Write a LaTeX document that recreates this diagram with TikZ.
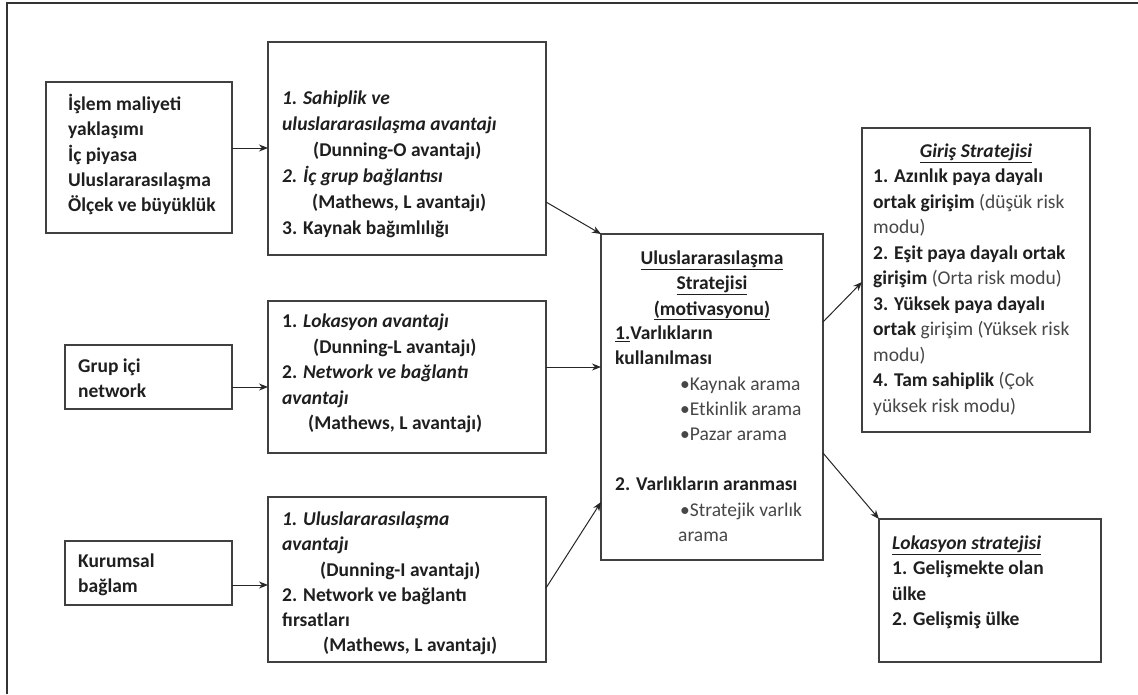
\documentclass[tikz,border=0pt]{standalone}
\usepackage{fontspec}
\setmainfont{Carlito}
\usetikzlibrary{arrows.meta}
\newcommand\lgt[1]{{\mdseries\color{black!72}#1}}
\begin{document}
\begin{tikzpicture}[x=1pt,y=-1pt,
  box/.style={draw=black!75, line width=1.2pt, anchor=north west, inner sep=0pt, outer sep=0pt},
  txt/.style={anchor=north west, inner sep=0pt, align=left, font=\fontsize{19.5}{25.3}\selectfont\bfseries, text=black!88},
  arr/.style={draw=black!85, line width=1pt, -{Stealth[length=9pt,width=7pt]}}
]
\useasboundingbox (0,0) rectangle (1138,694);
\fill[white] (0,0) rectangle (1138,694);
\draw[black!80, line width=2pt] (7,694) -- (7,3) -- (1138,3);

% boxes
\node[box, minimum width=186, minimum height=151] (A) at (46,82) {};
\node[box, minimum width=278, minimum height=213] (B) at (268,42) {};
\node[box, minimum width=278, minimum height=152] (C) at (268,301) {};
\node[box, minimum width=278, minimum height=165] (D) at (268,497) {};
\node[box, minimum width=167, minimum height=64] (E) at (65,345) {};
\node[box, minimum width=167, minimum height=64] (F) at (65,541) {};
\node[box, minimum width=222, minimum height=326] (G) at (601,234) {};
\node[box, minimum width=228, minimum height=304] (H) at (862,128) {};
\node[box, minimum width=222, minimum height=143] (I) at (879,519) {};

% texts
\node[txt] (tA) at (68,92.5) {\strut İşlem maliyeti\\ yaklaşımı\\ İç piyasa\\ Uluslararasılaşma\\ Ölçek ve büyüklük};
\node[txt, font=\fontsize{19.5}{26}\selectfont\bfseries] (tB) at (282,86.5) {\strut\textit{1. Sahiplik ve}\\ \textit{uluslararasılaşma avantajı}\\ \hspace*{31pt}(Dunning-O avantajı)\\ \textit{2. İç grup bağlantısı}\\ \hspace*{30pt}(Mathews, L avantajı)\\ 3. Kaynak bağımlılığı};
\node[txt, font=\fontsize{19.5}{25.5}\selectfont\bfseries] (tC) at (282,309.5) {\strut 1. \textit{Lokasyon avantajı}\\ \hspace*{31pt}(Dunning-L avantajı)\\ 2. \textit{Network ve bağlantı}\\ \textit{avantajı}\\ \hspace*{26pt}(Mathews, L avantajı)};
\node[txt] (tD) at (282,507.5) {\strut\textit{1. Uluslararasılaşma}\\ \textit{avantajı}\\ \hspace*{38pt}(Dunning-I avantajı)\\ 2. Network ve bağlantı\\ fırsatları\\ \hspace*{41pt}(Mathews, L avantajı)};
\node[txt] (tE) at (78,354.5) {\strut Grup içi\\ network};
\node[txt] (tF) at (78,549.5) {\strut Kurumsal\\ bağlam};
\node[txt, anchor=north, align=center] (tG1) at (712,246.5) {\strut\underline{Uluslararasılaşma}\\ \underline{Stratejisi}\\ \underline{(motivasyonu)}};
\node[txt] (tG2) at (615,321.5) {\strut\underline{1.}Varlıkların\\ kullanılması\\ \hspace*{65pt}\lgt{•Kaynak arama}\\ \hspace*{65pt}\lgt{•Etkinlik arama}\\ \hspace*{65pt}\lgt{•Pazar arama}\\[25pt] 2. Varlıkların aranması\\ \hspace*{65pt}\lgt{•Stratejik varlık}\\ \hspace*{63pt}\lgt{arama}};
\node[txt, anchor=north, align=center] (tH1) at (976,139.5) {\strut\textit{\underline{Giriş Stratejisi}}};
\node[txt, font=\fontsize{19.5}{25.5}\selectfont\bfseries] (tH2) at (873,164.5) {\strut 1. Azınlık paya dayalı\\ ortak girişim \lgt{(düşük risk}\\ \lgt{modu)}\\ 2. Eşit paya dayalı ortak\\ girişim \lgt{(Orta risk modu)}\\ 3. Yüksek paya dayalı\\ ortak \lgt{girişim (Yüksek risk}\\ \lgt{modu)}\\ 4. Tam sahiplik \lgt{(Çok}\\ \lgt{yüksek risk modu)}};
\node[txt] (tI) at (892,531.5) {\strut\textit{\underline{Lokasyon stratejisi}}\\ 1. Gelişmekte olan\\ ülke\\ 2. Gelişmiş ülke};

% connector levels
\coordinate (yAB) at (0,148);
\coordinate (yEC) at (0,387);
\coordinate (yFD) at (0,585);
\coordinate (yBG) at (0,202);
\coordinate (yCG) at (0,367);
\coordinate (yDa) at (0,588);
\coordinate (yDb) at (0,502);
\coordinate (yGHa) at (0,322);
\coordinate (yGHb) at (0,282);
\coordinate (yGI) at (0,453);

\draw[arr] (A.east |- yAB) -- (B.west |- yAB);
\draw[arr] (E.east |- yEC) -- (C.west |- yEC);
\draw[arr] (F.east |- yFD) -- (D.west |- yFD);
\draw[arr] (B.east |- yBG) -- (G.north west);
\draw[arr] (C.east |- yCG) -- (G.west |- yCG);
\draw[arr] (D.east |- yDa) -- (G.west |- yDb);
\draw[arr] (G.east |- yGHa) -- (H.west |- yGHb);
\draw[arr] (G.east |- yGI) -- (I.north west);
\end{tikzpicture}
\end{document}
